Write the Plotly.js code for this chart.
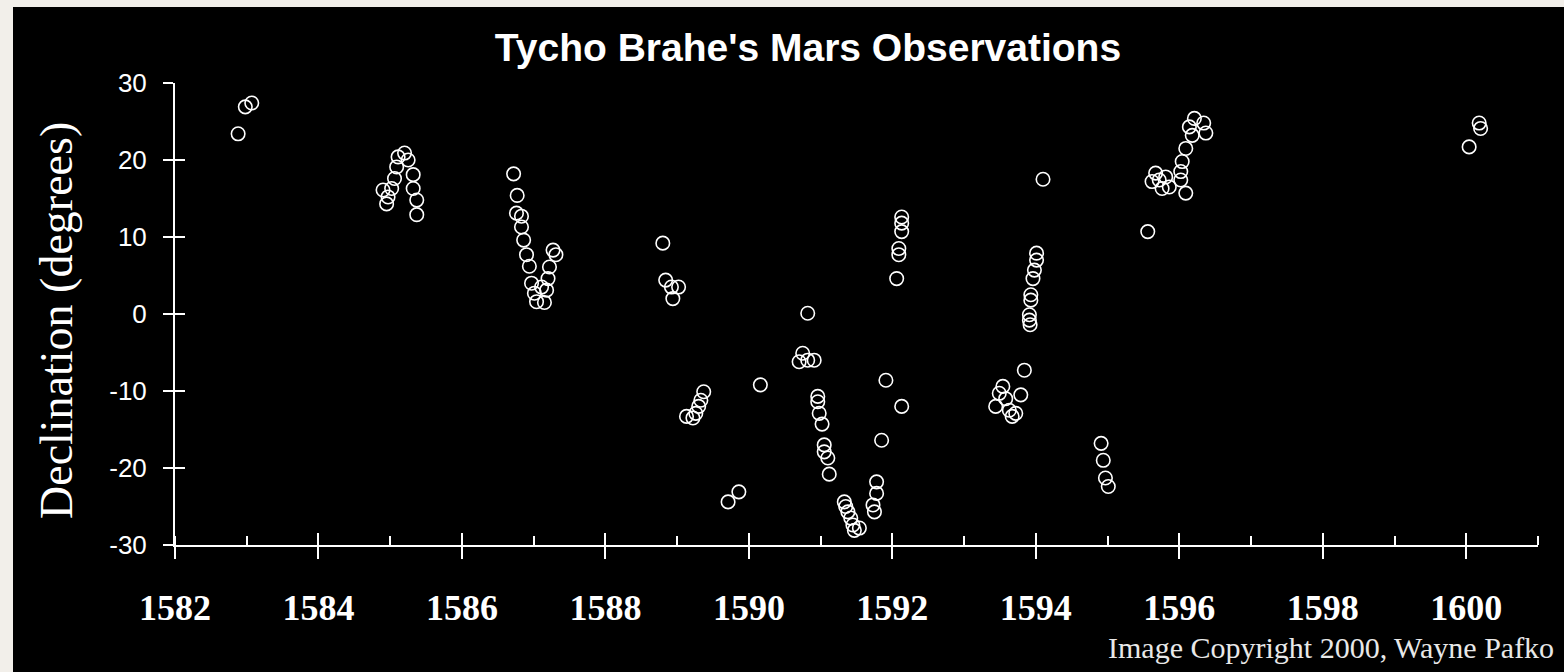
<!DOCTYPE html>
<html>
<head>
<meta charset="utf-8">
<script src="https://cdn.plot.ly/plotly-3.0.1.min.js"></script>
<style>
  html, body { margin: 0; padding: 0; width: 1564px; height: 672px; background: #f2efea; overflow: hidden; }
  #chart { position: absolute; left: 13px; top: 7px; width: 1551px; height: 665px; }
</style>
</head>
<body>
<div id="chart"></div>
<script>
const years = [
  1582.88, 1582.98, 1583.07,
  1584.90, 1584.95, 1584.97, 1585.02, 1585.06, 1585.09, 1585.11, 1585.20, 1585.25, 1585.32, 1585.32, 1585.37, 1585.37,
  1586.72, 1586.77, 1586.76, 1586.83, 1586.83, 1586.86, 1586.90, 1586.94, 1586.97, 1587.01, 1587.04, 1587.11, 1587.15, 1587.18, 1587.20, 1587.22, 1587.27, 1587.31,
  1588.80, 1588.84, 1588.92, 1589.02, 1588.94,
  1589.13, 1589.22, 1589.26, 1589.30, 1589.33, 1589.37,
  1589.71, 1589.86,
  1590.16,
  1590.70, 1590.75, 1590.82, 1590.82, 1590.91,
  1590.96, 1590.96, 1590.98, 1591.02, 1591.05, 1591.05, 1591.10, 1591.12,
  1591.33, 1591.35, 1591.38, 1591.42, 1591.45, 1591.47, 1591.54,
  1591.73, 1591.75, 1591.78, 1591.78, 1591.85, 1591.91,
  1592.06, 1592.09, 1592.09, 1592.13, 1592.13, 1592.13, 1592.13,
  1593.44, 1593.49, 1593.54, 1593.58, 1593.63, 1593.67, 1593.72, 1593.79, 1593.84,
  1593.91, 1593.91, 1593.92, 1593.93, 1593.93, 1593.96, 1593.98, 1594.01, 1594.01,
  1594.10,
  1594.91, 1594.94, 1594.97, 1595.01,
  1595.56,
  1595.62, 1595.67, 1595.72, 1595.76, 1595.81, 1595.86, 1596.02, 1596.02, 1596.04, 1596.09, 1596.09, 1596.14, 1596.18, 1596.21, 1596.34, 1596.37,
  1600.04, 1600.18, 1600.20
];
const declination = [
  23.4, 26.9, 27.4,
  16.1, 14.3, 15.2, 16.3, 17.6, 19.1, 20.4, 20.9, 20.0, 18.1, 16.3, 14.8, 12.9,
  18.2, 15.4, 13.1, 12.7, 11.3, 9.6, 7.7, 6.2, 4.0, 2.7, 1.6, 3.5, 1.5, 3.1, 4.6, 6.1, 8.3, 7.7,
  9.2, 4.4, 3.5, 3.5, 2.0,
  -13.3, -13.5, -12.9, -12.0, -11.2, -10.1,
  -24.4, -23.1,
  -9.2,
  -6.2, -5.1, 0.1, -6.0, -6.0,
  -10.7, -11.4, -12.9, -14.3, -17.0, -17.9, -18.7, -20.8,
  -24.4, -25.0, -25.7, -26.5, -27.4, -28.1, -27.8,
  -24.8, -25.7, -23.3, -21.8, -16.4, -8.6,
  4.6, 7.7, 8.5, 10.7, 11.8, 12.6, -12.0,
  -12.0, -10.3, -9.4, -11.0, -12.5, -13.3, -12.9, -10.5, -7.3,
  -0.1, -0.8, -1.4, 1.8, 2.5, 4.6, 5.7, 7.0, 7.9,
  17.5,
  -16.8, -19.0, -21.3, -22.4,
  10.7,
  17.2, 18.3, 17.4, 16.3, 17.8, 16.5, 17.4, 18.5, 19.8, 15.7, 21.5, 24.3, 23.2, 25.4, 24.8, 23.5,
  21.7, 24.8, 24.1
];
const xRange = [1582, 1601];
const yRange = [-30, 30];
const yTickVals = [-30, -20, -10, 0, 10, 20, 30];
const yTickText = ['-30', '-20', '-10', '0', '10', '20', '30'];
const titleText = "Tycho Brahe's Mars Observations";
const yTitleText = "Declination (degrees)";
const creditText = "Image Copyright 2000, Wayne Pafko";

const W = '#ffffff';
const traces = [
  {
    type: 'scatter', mode: 'markers', x: years, y: declination,
    marker: { symbol: 'circle-open', size: 13.5, color: W, line: { color: W, width: 1.6 } },
    cliponaxis: false, hoverinfo: 'x+y'
  },
  { type: 'scatter', mode: 'markers', x: [], y: [], xaxis: 'x2', yaxis: 'y2', showlegend: false, hoverinfo: 'skip' }
];

const layout = {
  width: 1551, height: 665,
  paper_bgcolor: '#000000', plot_bgcolor: '#000000',
  showlegend: false,
  margin: { l: 162, r: 26, t: 76, b: 127 },
  title: {
    text: titleText, x: 795 / 1551, xref: 'container', xanchor: 'center',
    y: 1 - 40 / 665, yref: 'container', yanchor: 'middle',
    font: { family: 'Liberation Sans, Arial, sans-serif', size: 39, weight: 'bold', color: W }
  },
  xaxis: {
    range: xRange, tickmode: 'linear', tick0: 1582, dtick: 2,
    ticks: 'outside', ticklen: 12, tickwidth: 2, tickcolor: W,
    showline: true, linecolor: W, linewidth: 2,
    showgrid: false, zeroline: false,
    minor: { ticks: 'inside', ticklen: 9, tickwidth: 2, tickcolor: W, tickmode: 'linear', tick0: 1582, dtick: 1, showgrid: false },
    tickfont: { family: 'Liberation Serif, Times New Roman, serif', size: 36, weight: 'bold', color: W },
    ticklabelstandoff: 18, fixedrange: true
  },
  xaxis2: {
    overlaying: 'x', anchor: 'y', side: 'bottom',
    range: xRange, tickmode: 'linear', tick0: 1582, dtick: 2,
    ticks: 'inside', ticklen: 12, tickwidth: 2, tickcolor: W,
    showticklabels: false, showline: false, showgrid: false, zeroline: false, fixedrange: true
  },
  yaxis: {
    range: yRange, tickmode: 'array', tickvals: yTickVals, ticktext: yTickText,
    ticks: 'outside', ticklen: 10, tickwidth: 2, tickcolor: W,
    showline: true, linecolor: W, linewidth: 2,
    showgrid: false, zeroline: false,
    tickfont: { family: 'Liberation Sans, Arial, sans-serif', size: 26, color: W },
    ticklabelstandoff: 11, fixedrange: true
  },
  yaxis2: {
    overlaying: 'y', anchor: 'x', side: 'left',
    range: yRange, tickmode: 'array', tickvals: yTickVals,
    ticks: 'inside', ticklen: 10, tickwidth: 2, tickcolor: W,
    showticklabels: false, showline: false, showgrid: false, zeroline: false, fixedrange: true
  },
  annotations: [
    {
      text: yTitleText, textangle: -90, showarrow: false,
      xref: 'paper', x: (43 - 162) / 1363, xanchor: 'center',
      yref: 'paper', y: 1 - (314 - 76) / 462, yanchor: 'middle',
      font: { family: 'Liberation Serif, Times New Roman, serif', size: 46, color: W }
    },
    {
      text: creditText, showarrow: false,
      xref: 'paper', x: (1543 - 162) / 1363, xanchor: 'right',
      yref: 'paper', y: 1 - (640 - 76) / 462, yanchor: 'middle',
      font: { family: 'Liberation Serif, Times New Roman, serif', size: 30, color: '#e8e8e8' }
    }
  ]
};

Plotly.newPlot('chart', traces, layout, { displayModeBar: false, staticPlot: true });
</script>
</body>
</html>
